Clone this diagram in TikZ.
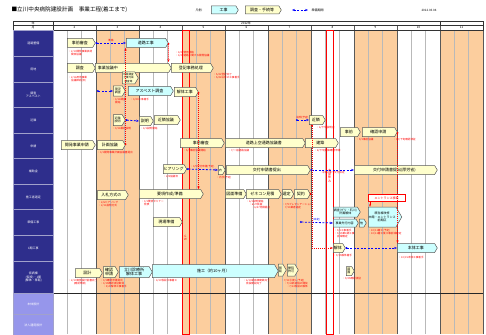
\documentclass[tikz,border=0pt]{standalone}
\usepackage{fontspec}
\setmainfont{Noto Sans CJK JP}
\usepackage{tikz}
\usetikzlibrary{shapes.symbols,arrows.meta}
\definecolor{navyband}{RGB}{46,46,140}
\definecolor{lilacband}{RGB}{150,150,235}
\definecolor{peachcol}{RGB}{252,206,158}
\definecolor{kojifill}{RGB}{204,255,255}
\definecolor{tetsufill}{RGB}{255,255,204}
\definecolor{boxline}{RGB}{90,90,90}
\newcommand{\boxfont}{\fontsize{4}{4.6}\selectfont}
\newcommand{\hosofont}{\fontsize{3}{3.5}\selectfont}
\newcommand{\memofont}{\fontsize{2.6}{3.1}\selectfont}

\begin{document}
\begin{tikzpicture}[x=1pt,y=-1pt, every node/.style={font=\boxfont, inner sep=0.4pt}]
  \tikzstyle{koji}=[signal, signal to=east, signal pointer angle=120, draw=boxline, fill=kojifill, line width=0.5pt, minimum height=9, anchor=west, align=center]
  \tikzstyle{tetsu}=[koji, fill=tetsufill]
  \tikzstyle{memo}=[text=red, font=\memofont, anchor=north west, align=left]
  \tikzstyle{rowhead}=[draw=white!55!navyband, line width=0.8pt, fill=navyband, text=white, font=\hosofont, minimum width=40, anchor=north west, align=center]
  \tikzstyle{junbi}=[blue, line width=0.8pt, dash pattern=on 2pt off 1.5pt, {Circle[length=1.8pt]}-{Stealth[length=3pt]}]
  \tikzstyle{renkei}=[red, line width=0.6pt, dash pattern=on 1pt off 1pt, {Circle[length=1.8pt]}-{Stealth[length=3pt]}]
  \useasboundingbox (0,0) rectangle (486,334);

  % month columns
  \foreach \m in {1,3,5,7,9}
    \fill[peachcol] ({53+43*\m},30) rectangle ({96+43*\m},334);
  \foreach \m in {0,...,9}
    \foreach \k in {1,2}
      \draw[gray!55, line width=0.4pt] ({53+43*\m+14.33*\k},30) -- ++(0,304);
  \foreach \m in {0,...,10}
    \draw[gray!70!black, line width=0.5pt] ({53+43*\m},25.5) -- ({53+43*\m},334);
  \draw[gray!30!black, line width=0.6pt] (53,293) -- (483,293);

  % header
  \draw[gray!40!black, line width=0.5pt] (13,21) rectangle (483,30);
  \draw[gray!40!black, line width=0.5pt] (13,25.5) -- (483,25.5);
  \draw[gray!40!black, line width=0.5pt] (53,21) -- (53,30);
  \draw[gray!40!black, line width=0.5pt] (440,21) -- (440,25.5);
  \node[font=\hosofont] (nen) at (33,23.3) {年};
  \node[font=\hosofont] (tsuki) at (33,27.8) {月};
  \node[font=\hosofont] (nen2012) at (246,23.3) {2012年};
  \foreach \m [count=\i from 0] in {2,...,11}
    \node[font=\hosofont] (mon\m) at ({74.5+43*\i},27.8) {\m};

  % row heads
  \foreach \y/\h/\txt/\nm in {30/26/道路整備/rdoro, 56/26/用地/ryochi, 82/25/{調査\\アスベスト}/rchosa, 107/26/近隣/rkinrin, 133/25/申請/rshinsei, 158/26/補助金/rhojo, 184/25/施工者選定/rsentei, 209/26/準備工事/rjunbi, 235/26/1期工事/rikki, 261/32/{仮病棟\\(仮設)・1期\\(解体・移転)}/rkari}
    \node[rowhead, minimum height=\h] (\nm) at (13,\y) {\txt};
  \node[rowhead, fill=lilacband, minimum height=21] (rhontai) at (13,293) {本体設計};
  \node[rowhead, fill=lilacband, minimum height=21] (rhojin) at (13,314) {法人運用設計};

  % holidays
  \draw[red, line width=0.7pt] (182,30) rectangle (189,334);
  \draw[red, line width=0.7pt] (326,30) rectangle (333,334);
  \node[text=red, font=\hosofont, align=center] (gw) at (185.5,238) {G\\W};
  \node[text=red, font=\hosofont, align=center] (obon) at (329.5,176) {お\\盆\\休\\み};

  % title and legend
  \node[anchor=west, font=\fontsize{5.6}{6.6}\selectfont] (title) at (11,10) {■立川中央病院建設計画　事業工程(着工まで)};
  \node[anchor=west, font=\hosofont] (hanrei) at (195,10) {凡例:};
  \node[koji, minimum width=27, minimum height=8] (legkoji) at (211,10) {工事};
  \node[tetsu, minimum width=36, minimum height=8] (legtetsu) at (245,10) {調査・手続等};
  \coordinate (lega) at (292,10);
  \coordinate (legb) at (308,10);
  \node[anchor=west, font=\hosofont] (legjunbi) at (311,10) {準備期間};
  \node[font=\hosofont] (hiduke) at (429,10) {2012.03.04};
  \draw[blue, line width=0.8pt, dash pattern=on 2pt off 1.5pt, {Stealth[length=3pt]}-{Stealth[length=3pt]}] (lega) -- (legb);

  % 道路整備
  \node[tetsu, minimum width=28] (jizen) at (67,43) {事前審査};
  \node[koji, minimum width=42] (doro) at (126,43) {道路工事};
  \coordinate (tokitop) at (168.5,62);
  \node[memo] (mjizen) at (68,50) {・2/10開発事業承認\\　関係協議};
  \node[memo] (mdoro) at (175,51) {・4/22使用開始\\・4/22道路に関する開発協議};

  % 用地
  \node[tetsu, minimum width=28] (chosa) at (67,68) {調査};
  \node[tetsu, minimum width=76, text width=68, align=left] (kyogi) at (95,68) {事業協議中};
  \node[tetsu, minimum width=42] (toki) at (171,68) {登記事務処理};
  \node[memo] (mchosa) at (68,76) {・2/16用地事業\\　協議締結(済)};
  \node[memo] (mtoki) at (213,73) {・5/22登記完了\\・5/22以降の工事着手};

  % 調査・アスベスト
  \node[tetsu, font=\memofont, minimum width=16, minimum height=12] (jiban) at (122,78) {地質調査\\土壌汚染\\調査等};
  \coordinate (asujunbi) at (97,91);
  \node[tetsu, font=\hosofont, minimum width=12, minimum height=10] (genkyo) at (113,91) {現況\\調査};
  \node[koji, minimum width=45] (asbest) at (128,91) {アスベスト調査};
  \node[tetsu, minimum width=24] (kaitai) at (174,92) {解体工事};
  \node[memo] (mgenkyo) at (112,98) {・3/14調査\\　開始};
  \node[memo] (masbest) at (130,98) {・3/20工事着手};

  % 近隣
  \node[tetsu, font=\hosofont, minimum width=12, minimum height=11] (kinsetsu) at (113,120) {近隣\\説明};
  \node[tetsu, minimum width=14] (setsu) at (139,121) {説明};
  \node[tetsu, minimum width=26] (kinkyo) at (154,120) {近隣協議};
  \coordinate (kinjunbi) at (296,120);
  \node[tetsu, minimum width=16] (kinrin2) at (309,120) {近隣};
  \node[memo] (mkinsetsu) at (112,127) {・3/14最初説明};
  \node[memo] (msetsu) at (140,127) {・4/1説明開始};
  \node[memo] (mkinrin2) at (316,126) {・6/下旬説明会};

  % 申請
  \node[tetsu, minimum width=34] (kaihatsu) at (61,145) {開発事業申請};
  \node[tetsu, minimum width=28] (keikaku) at (97,145) {計画協議};
  \node[tetsu, minimum width=44] (shinsa) at (180,143) {事前審査};
  \node[tetsu, minimum width=80] (jokuu) at (225,143) {道路上空通路協議書};
  \node[tetsu, minimum width=33] (kenchiku) at (305,143) {建築};
  \node[tetsu, minimum width=20] (jizen2) at (340,132) {事前};
  \node[tetsu, minimum width=35] (kakunin) at (362,132) {確認申請};
  \node[memo] (mkeikaku) at (97,151) {・3/1開発事業計画協議書提出};
  \node[memo] (mshinsa) at (183,149) {・5/1事前協議開始};
  \node[memo] (mjokuu) at (228,149) {・7/一般道路協議};
  \node[memo] (mkenchiku) at (314,149) {・8/下旬建築確認申請};
  \node[memo] (mjizen2) at (356,138) {・9/1事前協議};
  \node[memo] (mkakunin) at (393,138) {・10/下旬確認済証};

  % 補助金
  \node[tetsu, minimum width=18] (hearing) at (163,169) {ヒアリング};
  \node[tetsu, font=\hosofont, minimum width=7] (naiji) at (218,170) {内};
  \node[tetsu, minimum width=84] (kofu) at (226,170) {交付申請書提出};
  \node[tetsu, minimum width=83] (kofu2) at (354,170) {交付申請書提出(厚労省)};
  \node[memo] (mhearing) at (163,175) {・2/8協議済};
  \node[memo] (mnaiji) at (216,176) {・内示(予定)};

  % 施工者選定
  \node[tetsu, minimum width=31] (nyusatsu) at (97,195) {入札方式の};
  \node[tetsu, minimum width=64] (yoko) at (139,194) {要項作成/準備};
  \node[tetsu, minimum width=21] (zumen) at (225,194) {図面準備};
  \node[tetsu, minimum width=35] (zenekon) at (246,194) {ゼネコン見積};
  \node[tetsu, minimum width=11] (sentei) at (282,194) {選定};
  \node[tetsu, minimum width=16] (keiyaku) at (294,194) {契約};
  \node[memo] (mnyusatsu) at (98,201) {・2/6ヒアリング\\・2/11説明方式};
  \node[memo] (myoko) at (141,200) {・3/1要項セミナー\\　発表};
  \node[memo] (mzenekon) at (246,200) {・6/1説明開始\\　・6/27質疑\\　　・6/27見積提出};
  \node[memo] (mkeiyaku) at (282,203) {・7/9プレゼンテーション\\　7/13業者選定};

  % 準備工事
  \node[tetsu, minimum width=29] (genba) at (153,222) {現場準備};
  \coordinate (junjunbi) at (300,222);
  \node[koji, font=\hosofont, minimum width=27, minimum height=10] (keikai) at (333,212) {調査(グリ・石川)\\計画解体};
  \node[koji, font=\hosofont, minimum width=25, minimum height=8] (senko) at (333,223) {事業先行内容};
  \node[koji, font=\hosofont, minimum width=7, minimum height=8] (senko2) at (359,223) {他};
  \node[koji, font=\hosofont, minimum width=30, minimum height=20] (honkan) at (368,217) {既存棟改修\\本館・エントランス\\前期区};
  \node[draw=red, text=red, fill=white, font=\hosofont, minimum width=37, minimum height=7, anchor=west] (entrance) at (368,198) {エントランス移転};
  \node[memo] (msenko) at (334,229) {・9/1工事着手\\・9/15第1期工事\\　区域確定};
  \node[memo] (mhonkan) at (368,229) {・10/11着工(予定)\\・10/11着工後工事区域確定};

  % 1期工事
  \node[tetsu, minimum width=12] (kaitai3) at (333,248) {解体};
  \node[koji, minimum width=40] (hontai) at (397,248) {本体工事};
  \node[memo] (mkaitai3) at (333,254) {・9/15解体着手};
  \node[memo] (mhontai) at (398,256) {・10/15本体工事着手};
  \node[tetsu, font=\hosofont, minimum width=8, minimum height=9] (zu) at (346,271) {図\\面};
  \node[memo] (mzu) at (342,277) {・9/25確認済証};

  % 仮病棟
  \node[tetsu, minimum width=27] (sekkei) at (75,273) {設計};
  \node[tetsu, minimum width=15, minimum height=11] (kakunin2) at (103,272) {確認\\申請};
  \node[koji, minimum width=33, minimum height=11] (tachikawa) at (119,272) {立川診療所\\解体工事};
  \node[koji, minimum width=126, minimum height=13] (seko) at (152,271) {施工（約10ヶ月）};
  \node[tetsu, font=\hosofont, minimum width=8, minimum height=12] (iten) at (278,270) {移\\転};
  \node[tetsu, font=\hosofont, minimum width=11, minimum height=12] (kaiin) at (287,270) {開院\\許可};
  \node[memo] (msekkei) at (68,279) {・2/10実施設計図書完了\\　　(確認申請)};
  \node[memo] (mkakunin2) at (100,279) {・3/1確認申請提出\\・3/15確認済証取得\\　・3/20解体工事着手};
  \node[memo] (mseko) at (153,279) {・4/10仮設工事着工};
  \node[memo] (mseko2) at (243,279) {・6/10新病棟建築完了\\　仮設建設完了};
  \node[memo] (mkaiin) at (281,279) {・7/11引渡し(予定)\\　・7/12新病院の開院\\　　・7/14仮設の解体};

  % connectors
  \draw[junbi] (jizen.east) -- node[above=0.5pt, text=red, font=\memofont] (jizenlbl) {準備} (doro.west);
  \draw[renkei] (doro.east) -- (tokitop);
  \draw[junbi] (asujunbi) -- (genkyo.west);
  \draw[junbi] (kinsetsu.east) -- (setsu.west);
  \draw[junbi] (kinjunbi) -- node[above=0.5pt, text=red, font=\memofont] (kinlbl) {説明(予定)} (kinrin2.west);
  \draw[renkei] (keikaku.east) -- (keikaku.east |- doro.south);
  \draw[renkei] (kaitai.east) -- (kaitai.east |- yoko.north);
  \draw[renkei] (kakunin.east) -- (kakunin.east |- hontai.north);
  \draw[junbi] (hearing.east) -- node[above=0.5pt, text=red, font=\memofont] (hojolbl) {・3/9交付申請(予定)} (naiji.west);
  \draw[junbi] (kofu.east) -- node[below=0.5pt, text=red, font=\memofont] (kofulbl) {・8/9以降～交付決定} (kofu2.west);
  \draw[junbi] (junjunbi) -- node[above=0.5pt, text=blue, font=\memofont] (junlbl) {(未定)} (senko.west);
  \draw[red, line width=0.6pt, -{Stealth[length=2.5pt]}] ([xshift=2]entrance.south west) -- ([xshift=2]honkan.north west);
  \draw[renkei] ([xshift=3]kinrin2.south west) |- (kaitai3.west);
  \fill[red] (keiyaku.east) circle (1.1);
  \draw[junbi] (kaitai3.east) -- (hontai.west);
\end{tikzpicture}
\end{document}
